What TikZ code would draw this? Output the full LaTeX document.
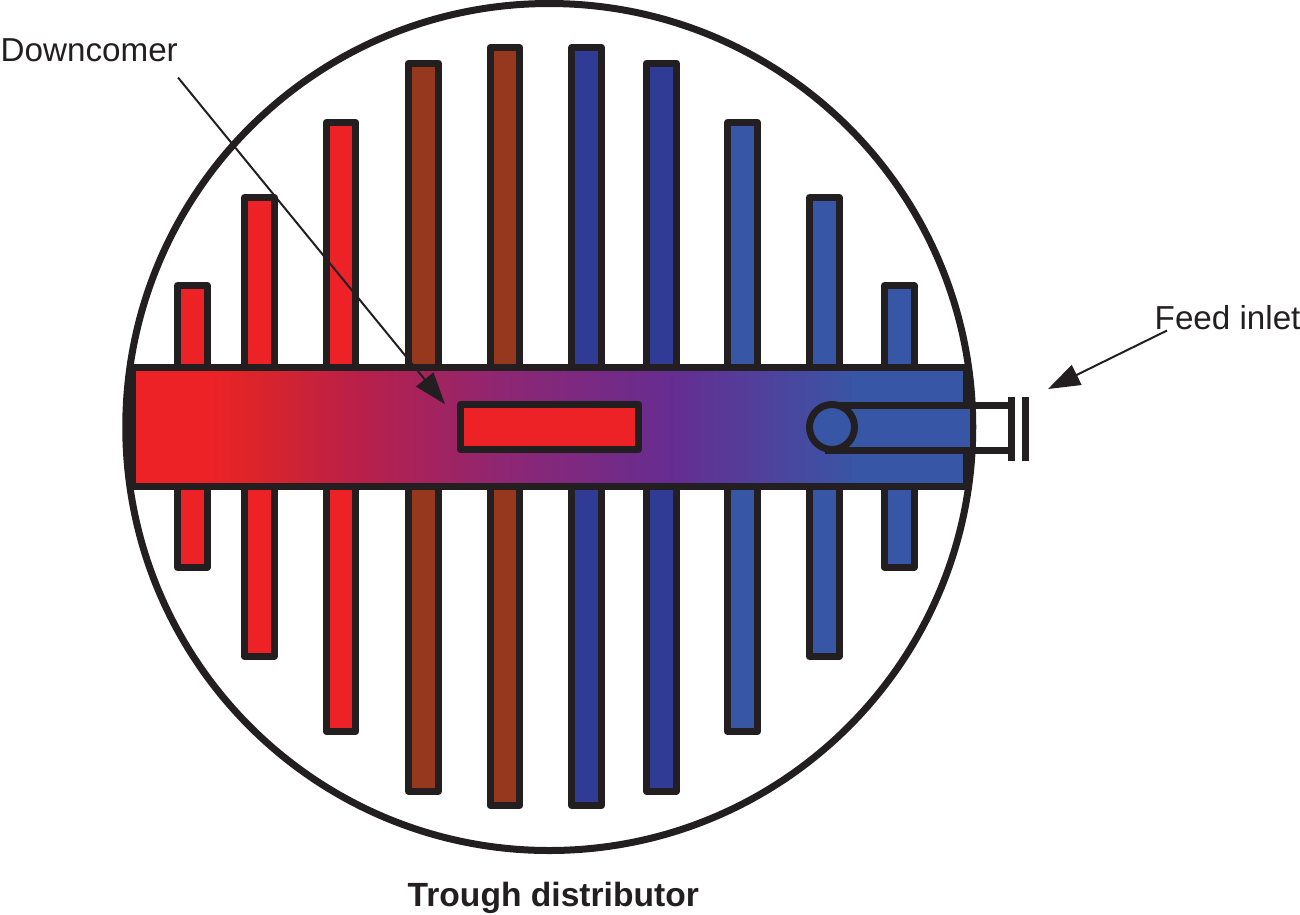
\documentclass[tikz,border=0pt]{standalone}
\usepackage{fontspec}
\setmainfont{Liberation Sans}
\usetikzlibrary{arrows.meta}
\definecolor{inkblack}{HTML}{231F20}
\definecolor{hotred}{HTML}{ED2227}
\definecolor{warmbrown}{HTML}{96381E}
\definecolor{darkblue}{HTML}{2F3B94}
\definecolor{coldblue}{HTML}{3757A6}
\definecolor{midpurple}{HTML}{662D91}
\definecolor{dullred}{HTML}{DE2428}
\definecolor{crimson}{HTML}{B92049}
\definecolor{plum}{HTML}{8F2672}
\pgfdeclarehorizontalshading{troughshade}{100bp}{
    color(0bp)=(hotred); color(29.47bp)=(hotred);
    color(31.9bp)=(dullred); color(38.5bp)=(crimson); color(47bp)=(plum);
    color(57.29bp)=(midpurple);
    color(68.77bp)=(coldblue); color(100bp)=(coldblue)}
\tikzset{
    wall/.style={draw=inkblack,line width=7pt,line join=round},
    label/.style={inner sep=0pt,anchor=base west,text=inkblack,font=\fontsize{33.2}{40}\selectfont},
    pointer/.style={draw=inkblack,line width=2pt,-{Triangle[length=32pt,width=22pt]}}
}
\def\Channels{
    \foreach \chx/\chtop/\chbot/\chcol in {
        192.3/282/571/hotred, 259.2/194/660/hotred, 341/119/735/hotred,
        423.3/59.5/794.7/warmbrown, 505/44/809/warmbrown,
        586.7/44/809/darkblue, 661.5/59.5/794.7/darkblue,
        742.5/119/735/coldblue, 824.3/194/660/coldblue, 899.2/282/571/coldblue}
        \draw[wall,fill=\chcol] (\chx-14.85,\chtop+3.5) rectangle (\chx+14.85,\chbot-3.5);
}

\begin{document}
\begin{tikzpicture}[x=1pt,y=-1pt]
    \useasboundingbox (0,0) rectangle (1300,914);
    \Channels
    \shade[wall,shading=troughshade] (132.5,367.5) rectangle (966.5,486.5);
    \draw[wall] (549.25,427) circle [radius=423.5];

    % inlet pipe
    \fill[coldblue] (825,408) rectangle (970,447);
    \draw[wall] (825,405) -- (1010,405);
    \draw[wall] (825,450) -- (1010,450);
    \draw[wall,fill=coldblue] (832,427) circle [radius=22.5];
    \draw[wall,line join=miter] (1011.5,397) -- (1011.5,461);
    \draw[wall,line join=miter] (1025.5,397) -- (1025.5,461);

    \node[wall,fill=hotred,minimum width=178pt,minimum height=45pt,inner sep=0pt] (downcomer) at (549.5,427) {};

    \node[label] (downcomerlabel) at (0.5,61) {Downcomer};
    \node[label] (feedlabel) at (1154.5,329) {Feed inlet};
    \node[label,font=\fontsize{33.6}{40}\selectfont\bfseries] (titlelabel) at (407.5,906) {Trough distributor};
    \coordinate (feedtip) at (1048,389);

    \draw[pointer,shorten >=19pt] ([yshift=-16pt]downcomerlabel.south east) -- (downcomer.175);
    \draw[pointer] ([xshift=12.5pt,yshift=-1pt]feedlabel.south west) -- (feedtip);
\end{tikzpicture}
\end{document}
